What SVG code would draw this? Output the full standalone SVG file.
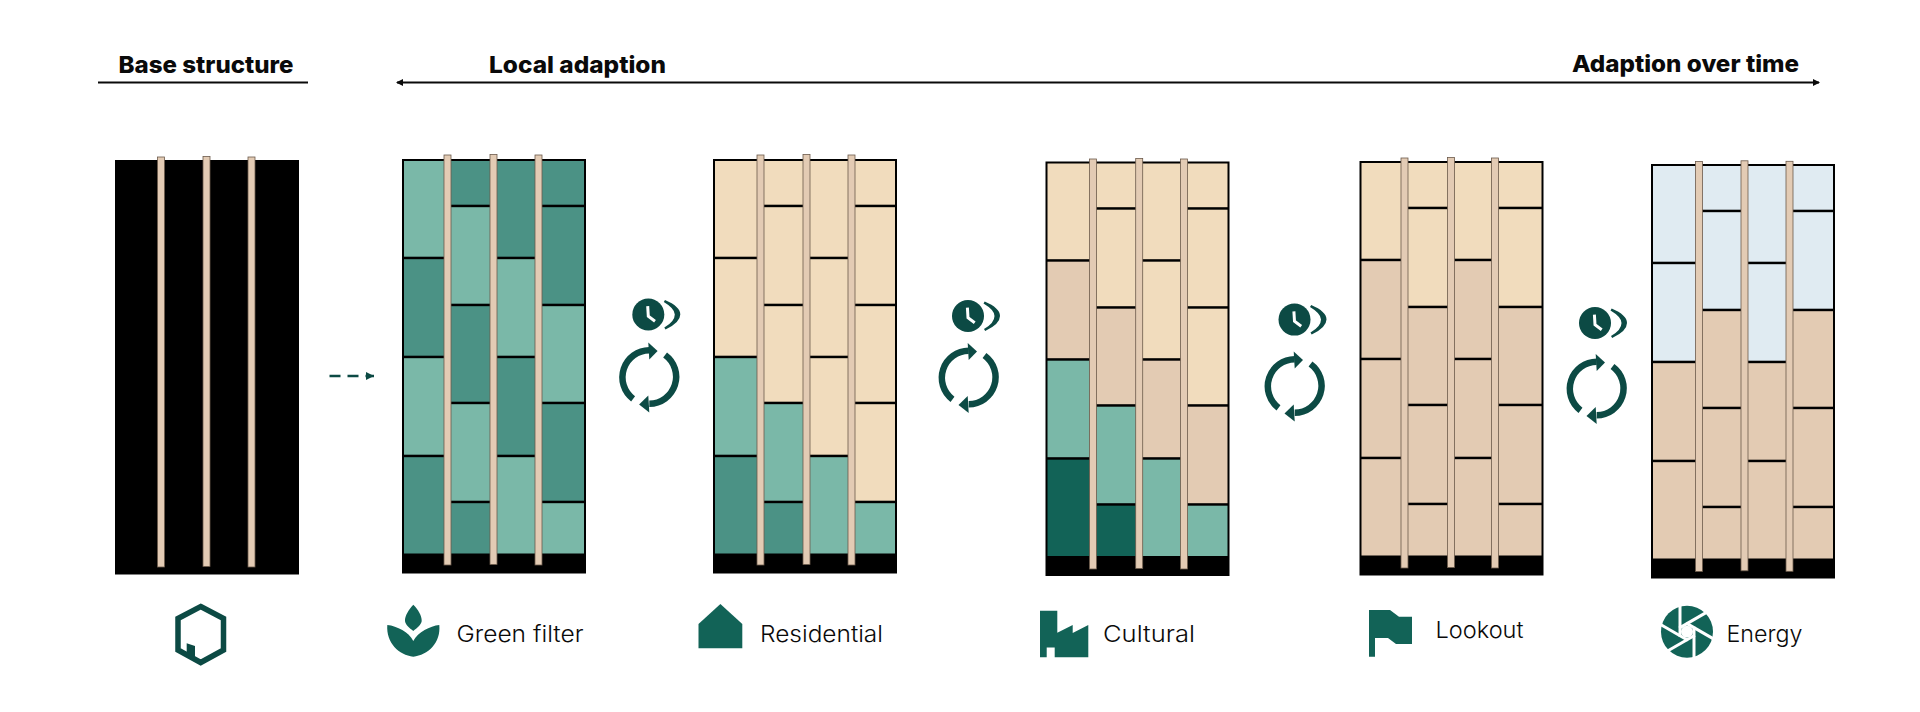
<svg xmlns="http://www.w3.org/2000/svg" xmlns:xlink="http://www.w3.org/1999/xlink" width="1920" height="712" viewBox="0 0 1920 712">
<style>
text{font-family:"Inter","Liberation Sans",sans-serif;fill:#0a0a0a}
.h{font-size:23.500px;font-weight:800}
.l{font-size:23px;font-weight:300}
.lt{fill:#7ab8a8}.md{fill:#4b9285}.dk{fill:#126357}.cr{fill:#f1dcbd}.tn{fill:#e3cbb3}.bl{fill:#e0ebf2}
.fr{fill:#000}
.pl{fill:#e3cbb4;stroke:#6b5a4b;stroke-width:.8}
.ln{fill:none;stroke:#0a0a0a;stroke-width:2.200}
.ic{fill:#126357}
.dn{fill:#0c4a44}
.cy{fill:none;stroke:#0c4a44;stroke-width:6.500}
</style>
<defs>
<marker id="ah" markerWidth="8" markerHeight="8" refX="6" refY="3.5" orient="auto-start-reverse" markerUnits="userSpaceOnUse"><path d="M0 0L7 3.5L0 7Z" fill="#0a0a0a"/></marker>
<marker id="ad" markerWidth="10" markerHeight="10" refX="8" refY="4" orient="auto" markerUnits="userSpaceOnUse"><path d="M0 0L8 4L0 8Z" fill="#0c4a44"/></marker>
<rect id="a1" x="2" y="2" width="45" height="95.700"/><rect id="a2" x="2" y="100.200" width="45" height="96.500"/><rect id="a3" x="2" y="199.200" width="45" height="96.500"/><rect id="a4" x="2" y="298.200" width="45" height="96.300"/>
<rect id="b1" x="46" y="2" width="47" height="43.700"/><rect id="b2" x="46" y="48.200" width="47" height="96.500"/><rect id="b3" x="46" y="147.200" width="47" height="95.500"/><rect id="b4" x="46" y="245.200" width="47" height="96.500"/><rect id="b5" x="46" y="344.200" width="47" height="50.300"/>
<rect id="c1" x="92" y="2" width="46" height="95.700"/><rect id="c2" x="92" y="100.200" width="46" height="96.500"/><rect id="c3" x="92" y="199.200" width="46" height="96.500"/><rect id="c4" x="92" y="298.200" width="46" height="96.300"/>
<rect id="d1" x="137" y="2" width="45" height="43.700"/><rect id="d2" x="137" y="48.200" width="45" height="96.500"/><rect id="d3" x="137" y="147.200" width="45" height="95.500"/><rect id="d4" x="137" y="245.200" width="45" height="96.500"/><rect id="d5" x="137" y="344.200" width="45" height="50.300"/>
<rect id="p" width="7" height="410" class="pl"/>
<rect id="f" width="184" height="414.500" class="fr"/>
<g id="clock"><circle r="16" class="dn"/><path d="M-.6-8.300L0 1.700L6.700 6.700" fill="none" stroke="#fff" stroke-width="3"/><path d="M16.700-14.500Q32-8 32 0Q32 8 17.200 15L16 13Q26.500 7 26.500 0Q26.500-6 15.500-12.500Z" class="dn"/></g>
<g id="cycle"><path d="M-15.500 21.800A27 27 0 0 1 .7-26.700" class="cy"/><path d="M16.500-22A27 27 0 0 1 .7 26.800" class="cy"/><path d="M-.3-34.500L9-26L.7-17.500Z" class="dn"/><path d="M-9.500 27.500L-.3 18.500L.7 35.500Z" class="dn"/></g>
</defs>
<g id="connectors">
<path class="ln" d="M98 82.500H308"/>
<path class="ln" d="M397 82.500H1819" marker-start="url(#ah)" marker-end="url(#ah)"/>
<path d="M329.500 376H374" fill="none" stroke="#0c4a44" stroke-width="2.500" stroke-dasharray="11 7" marker-end="url(#ad)"/>
</g>
<g id="heading-base"><text class="h" x="118.500" y="73" textLength="175" lengthAdjust="spacingAndGlyphs">Base structure</text></g>
<g id="heading-local"><text class="h" x="489" y="73" textLength="177" lengthAdjust="spacingAndGlyphs">Local adaption</text></g>
<g id="heading-time"><text class="h" x="1572" y="72" textLength="227" lengthAdjust="spacingAndGlyphs">Adaption over time</text></g>
<g id="panel-base"><use href="#f" x="115" y="160"/><use href="#p" x="157.500" y="157"/><use href="#p" x="203" y="156.500"/><use href="#p" x="248" y="157"/></g>
<g id="panel-green"><g transform="translate(402 159)"><use href="#f"/>
<use href="#a1" class="lt"/><use href="#a2" class="md"/><use href="#a3" class="lt"/><use href="#a4" class="md"/>
<use href="#b1" class="md"/><use href="#b2" class="lt"/><use href="#b3" class="md"/><use href="#b4" class="lt"/><use href="#b5" class="md"/>
<use href="#c1" class="md"/><use href="#c2" class="lt"/><use href="#c3" class="md"/><use href="#c4" class="lt"/>
<use href="#d1" class="md"/><use href="#d2" class="md"/><use href="#d3" class="lt"/><use href="#d4" class="md"/><use href="#d5" class="lt"/></g>
<use href="#p" x="444" y="155"/><use href="#p" x="490" y="154.500"/><use href="#p" x="535" y="155"/></g>
<g id="panel-residential"><g transform="translate(713 159)"><use href="#f"/>
<use href="#a1" class="cr"/><use href="#a2" class="cr"/><use href="#a3" class="lt"/><use href="#a4" class="md"/>
<use href="#b1" class="cr"/><use href="#b2" class="cr"/><use href="#b3" class="cr"/><use href="#b4" class="lt"/><use href="#b5" class="md"/>
<use href="#c1" class="cr"/><use href="#c2" class="cr"/><use href="#c3" class="cr"/><use href="#c4" class="lt"/>
<use href="#d1" class="cr"/><use href="#d2" class="cr"/><use href="#d3" class="cr"/><use href="#d4" class="cr"/><use href="#d5" class="lt"/></g>
<use href="#p" x="757" y="155"/><use href="#p" x="803" y="154.500"/><use href="#p" x="848" y="155"/></g>
<g id="panel-cultural"><g transform="translate(1045.500 161.500)"><use href="#f"/>
<use href="#a1" class="cr"/><use href="#a2" class="tn"/><use href="#a3" class="lt"/><use href="#a4" class="dk"/>
<use href="#b1" class="cr"/><use href="#b2" class="cr"/><use href="#b3" class="tn"/><use href="#b4" class="lt"/><use href="#b5" class="dk"/>
<use href="#c1" class="cr"/><use href="#c2" class="cr"/><use href="#c3" class="tn"/><use href="#c4" class="lt"/>
<use href="#d1" class="cr"/><use href="#d2" class="cr"/><use href="#d3" class="cr"/><use href="#d4" class="tn"/><use href="#d5" class="lt"/></g>
<use href="#p" x="1089.500" y="159"/><use href="#p" x="1135.700" y="158.500"/><use href="#p" x="1180.500" y="159"/></g>
<g id="panel-lookout"><g transform="translate(1359.500 161)"><use href="#f"/>
<use href="#a1" class="cr"/><use href="#a2" class="tn"/><use href="#a3" class="tn"/><use href="#a4" class="tn"/>
<use href="#b1" class="cr"/><use href="#b2" class="cr"/><use href="#b3" class="tn"/><use href="#b4" class="tn"/><use href="#b5" class="tn"/>
<use href="#c1" class="cr"/><use href="#c2" class="tn"/><use href="#c3" class="tn"/><use href="#c4" class="tn"/>
<use href="#d1" class="cr"/><use href="#d2" class="cr"/><use href="#d3" class="tn"/><use href="#d4" class="tn"/><use href="#d5" class="tn"/></g>
<use href="#p" x="1401" y="158"/><use href="#p" x="1447.500" y="157.500"/><use href="#p" x="1491.500" y="158"/></g>
<g id="panel-energy"><g transform="translate(1651 164)"><use href="#f"/>
<use href="#a1" class="bl"/><use href="#a2" class="bl"/><use href="#a3" class="tn"/><use href="#a4" class="tn"/>
<use href="#b1" class="bl"/><use href="#b2" class="bl"/><use href="#b3" class="tn"/><use href="#b4" class="tn"/><use href="#b5" class="tn"/>
<use href="#c1" class="bl"/><use href="#c2" class="bl"/><use href="#c3" class="tn"/><use href="#c4" class="tn"/>
<use href="#d1" class="bl"/><use href="#d2" class="bl"/><use href="#d3" class="tn"/><use href="#d4" class="tn"/><use href="#d5" class="tn"/></g>
<use href="#p" x="1695.500" y="161.500"/><use href="#p" x="1741" y="160.800"/><use href="#p" x="1786" y="161.300"/></g>
<g id="cycle-1"><use href="#clock" x="648.300" y="314.500"/><use href="#cycle" x="648.600" y="377"/></g>
<g id="cycle-2"><use href="#clock" x="968" y="316"/><use href="#cycle" x="968" y="377.500"/></g>
<g id="cycle-3"><use href="#clock" x="1294.500" y="319.600"/><use href="#cycle" x="1294" y="386"/></g>
<g id="cycle-4"><use href="#clock" x="1595" y="323"/><use href="#cycle" x="1596" y="388.500"/></g>
<g id="icon-base"><path d="M200.700 606.500L223.500 618.500V650L200.700 662.500L178 650V618.500Z" fill="none" stroke="#0c4a44" stroke-width="5.500"/><path d="M186.700 643.300L195 646V660L186.700 656Z" class="dn"/></g>
<g id="label-green"><path class="ic" d="M413.300 604.700C418 609 422 616 421.700 621C421.500 624.500 417 628 413.300 631C409.500 628 405.200 624.500 405 621C404.700 616 409 609 413.300 604.700Z"/><path class="ic" d="M387.300 625C397 626 409 632 413.300 641C418 632 430 626 439.300 625C441 643 428 655 413.300 656.700C399 655 386 643 387.300 625Z"/><text class="l" x="456.500" y="641.700" textLength="127" lengthAdjust="spacingAndGlyphs">Green filter</text></g>
<g id="label-residential"><path class="ic" d="M720.400 604L742.300 624V648.300H698.500V624Z"/><text class="l" x="760" y="641.700" textLength="123" lengthAdjust="spacingAndGlyphs">Residential</text></g>
<g id="label-cultural"><path class="ic" d="M1040 610.700H1057.300V632.700L1072.700 625V633L1088.300 625V657.300H1054.700V647.500H1046.700V657.300H1040Z"/><text class="l" x="1103" y="641.700" textLength="92" lengthAdjust="spacingAndGlyphs">Cultural</text></g>
<g id="label-lookout"><path class="ic" d="M1369 610H1390L1399 616.700H1412V644H1396L1388 638H1375V656.700H1369Z"/><text class="l" x="1435.500" y="638" textLength="88" lengthAdjust="spacingAndGlyphs">Lookout</text></g>
<g id="label-energy"><circle class="ic" cx="1687" cy="631.700" r="26"/><g transform="translate(1687 631.700)" stroke="#fff" stroke-width="3"><path d="M-7-28V5"/><path d="M-7-28V5" transform="rotate(60)"/><path d="M-7-28V5" transform="rotate(120)"/><path d="M-7-28V5" transform="rotate(180)"/><path d="M-7-28V5" transform="rotate(240)"/><path d="M-7-28V5" transform="rotate(300)"/><circle r="6" fill="#fff" stroke="none"/></g><text class="l" x="1726.500" y="642" textLength="76" lengthAdjust="spacingAndGlyphs">Energy</text></g>
</svg>
